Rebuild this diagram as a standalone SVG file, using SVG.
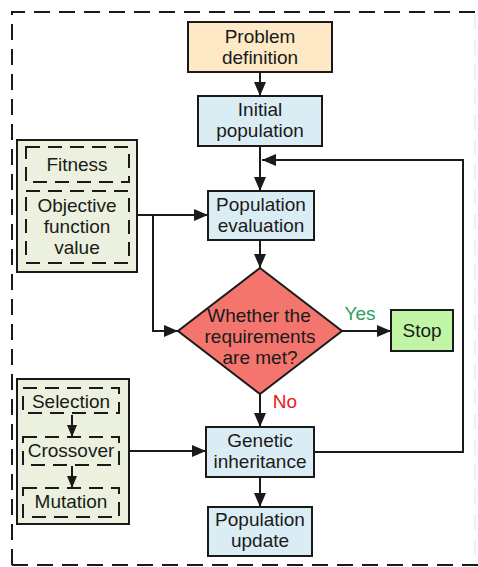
<svg xmlns="http://www.w3.org/2000/svg" width="478" height="567" viewBox="0 0 478 567">
<style>
  text { font-family: "Liberation Sans", Arial, sans-serif; font-size: 19px; fill: #1a1a1a; text-anchor: middle; }
  .box { stroke: #1a1a1a; stroke-width: 2; }
  .inner { fill: none; stroke: #1a1a1a; stroke-width: 2; stroke-dasharray: 14 8; }
  .conn { fill: none; stroke: #1a1a1a; stroke-width: 2; }
</style>
<defs>
  <marker id="ah" viewBox="0 0 14 12" refX="14" refY="6" markerWidth="14" markerHeight="12" markerUnits="userSpaceOnUse" orient="auto">
    <path d="M0,0 L14,6 L0,12 Z" fill="#1a1a1a"/>
  </marker>
  <marker id="ahs" viewBox="0 0 12 10" refX="12" refY="5" markerWidth="12" markerHeight="10" markerUnits="userSpaceOnUse" orient="auto">
    <path d="M0,0 L12,5 L0,10 Z" fill="#1a1a1a"/>
  </marker>
</defs>
<rect x="0" y="0" width="478" height="567" fill="#ffffff"/>
<g id="frame">
  <path d="M12,565 L12,12 L478,12" fill="none" stroke="#1a1a1a" stroke-width="2" stroke-dasharray="16 9"/>
  <path d="M12,565 L478,565" fill="none" stroke="#1a1a1a" stroke-width="2" stroke-dasharray="16 9"/>
  <path d="M475,14 L475,563" fill="none" stroke="#ececec" stroke-width="1.5" stroke-dasharray="16 9"/>
</g>
<g id="problem">
  <rect class="box" x="188" y="22" width="144" height="50" fill="#fde9c6"/>
  <text x="260" y="43">Problem</text>
  <text x="260" y="64">definition</text>
</g>
<g id="initial">
  <rect class="box" x="198" y="96" width="124" height="50" fill="#daedf4"/>
  <text x="260" y="116">Initial</text>
  <text x="260" y="137">population</text>
</g>
<g id="evaluation">
  <rect class="box" x="208" y="191" width="106" height="49" fill="#daedf4"/>
  <text x="261" y="211">Population</text>
  <text x="261" y="232">evaluation</text>
</g>
<g id="decision">
  <polygon class="box" points="260,268 342,331 260,394 178,331" fill="#f4756e"/>
  <text x="259" y="322">Whether the</text>
  <text x="260" y="343">requirements</text>
  <text x="260" y="364">are met?</text>
</g>
<g id="stop">
  <rect class="box" x="391" y="310" width="62" height="41" fill="#bff5a4"/>
  <text x="422" y="337">Stop</text>
</g>
<g id="genetic">
  <rect class="box" x="206" y="427" width="108" height="50" fill="#daedf4"/>
  <text x="260" y="447">Genetic</text>
  <text x="260" y="468">inheritance</text>
</g>
<g id="update">
  <rect class="box" x="208" y="507" width="104" height="49" fill="#daedf4"/>
  <text x="260" y="526">Population</text>
  <text x="260" y="547">update</text>
</g>
<g id="fitness-group">
  <rect class="box" x="17" y="140" width="120" height="132" fill="#ebf1de"/>
  <rect class="inner" x="26" y="147" width="103" height="35"/>
  <text x="77" y="171">Fitness</text>
  <rect class="inner" x="26" y="191" width="103" height="72"/>
  <text x="77" y="212">Objective</text>
  <text x="77" y="233">function</text>
  <text x="77" y="254">value</text>
</g>
<g id="operators-group">
  <rect class="box" x="17" y="379" width="112" height="145" fill="#ebf1de"/>
  <rect class="inner" x="23" y="388" width="96" height="25"/>
  <text x="71" y="408">Selection</text>
  <rect class="inner" x="23" y="437" width="96" height="28"/>
  <text x="71" y="457">Crossover</text>
  <rect class="inner" x="23" y="488" width="96" height="29"/>
  <text x="71" y="508">Mutation</text>
  <path class="conn" d="M72,415 L72,437" marker-end="url(#ahs)"/>
  <path class="conn" d="M72,466 L72,488" marker-end="url(#ahs)"/>
</g>
<g id="connectors">
  <path class="conn" d="M260,72 L260,96" marker-end="url(#ah)"/>
  <path class="conn" d="M260,146 L260,191" marker-end="url(#ah)"/>
  <path class="conn" d="M314,452 L463,452 L463,160 L262,160" marker-end="url(#ah)"/>
  <path class="conn" d="M137,215 L208,215" marker-end="url(#ah)"/>
  <path class="conn" d="M153,215 L153,331 L178,331" marker-end="url(#ah)"/>
  <path class="conn" d="M260,240 L260,268" marker-end="url(#ah)"/>
  <path class="conn" d="M342,331 L391,331" marker-end="url(#ah)"/>
  <path class="conn" d="M260,394 L260,427" marker-end="url(#ah)"/>
  <path class="conn" d="M129,451 L206,451" marker-end="url(#ah)"/>
  <path class="conn" d="M260,477 L260,507" marker-end="url(#ah)"/>
  <text x="360" y="320" style="fill:#2ca05c">Yes</text>
  <text x="285" y="408" style="fill:#e8191b">No</text>
</g>
</svg>
